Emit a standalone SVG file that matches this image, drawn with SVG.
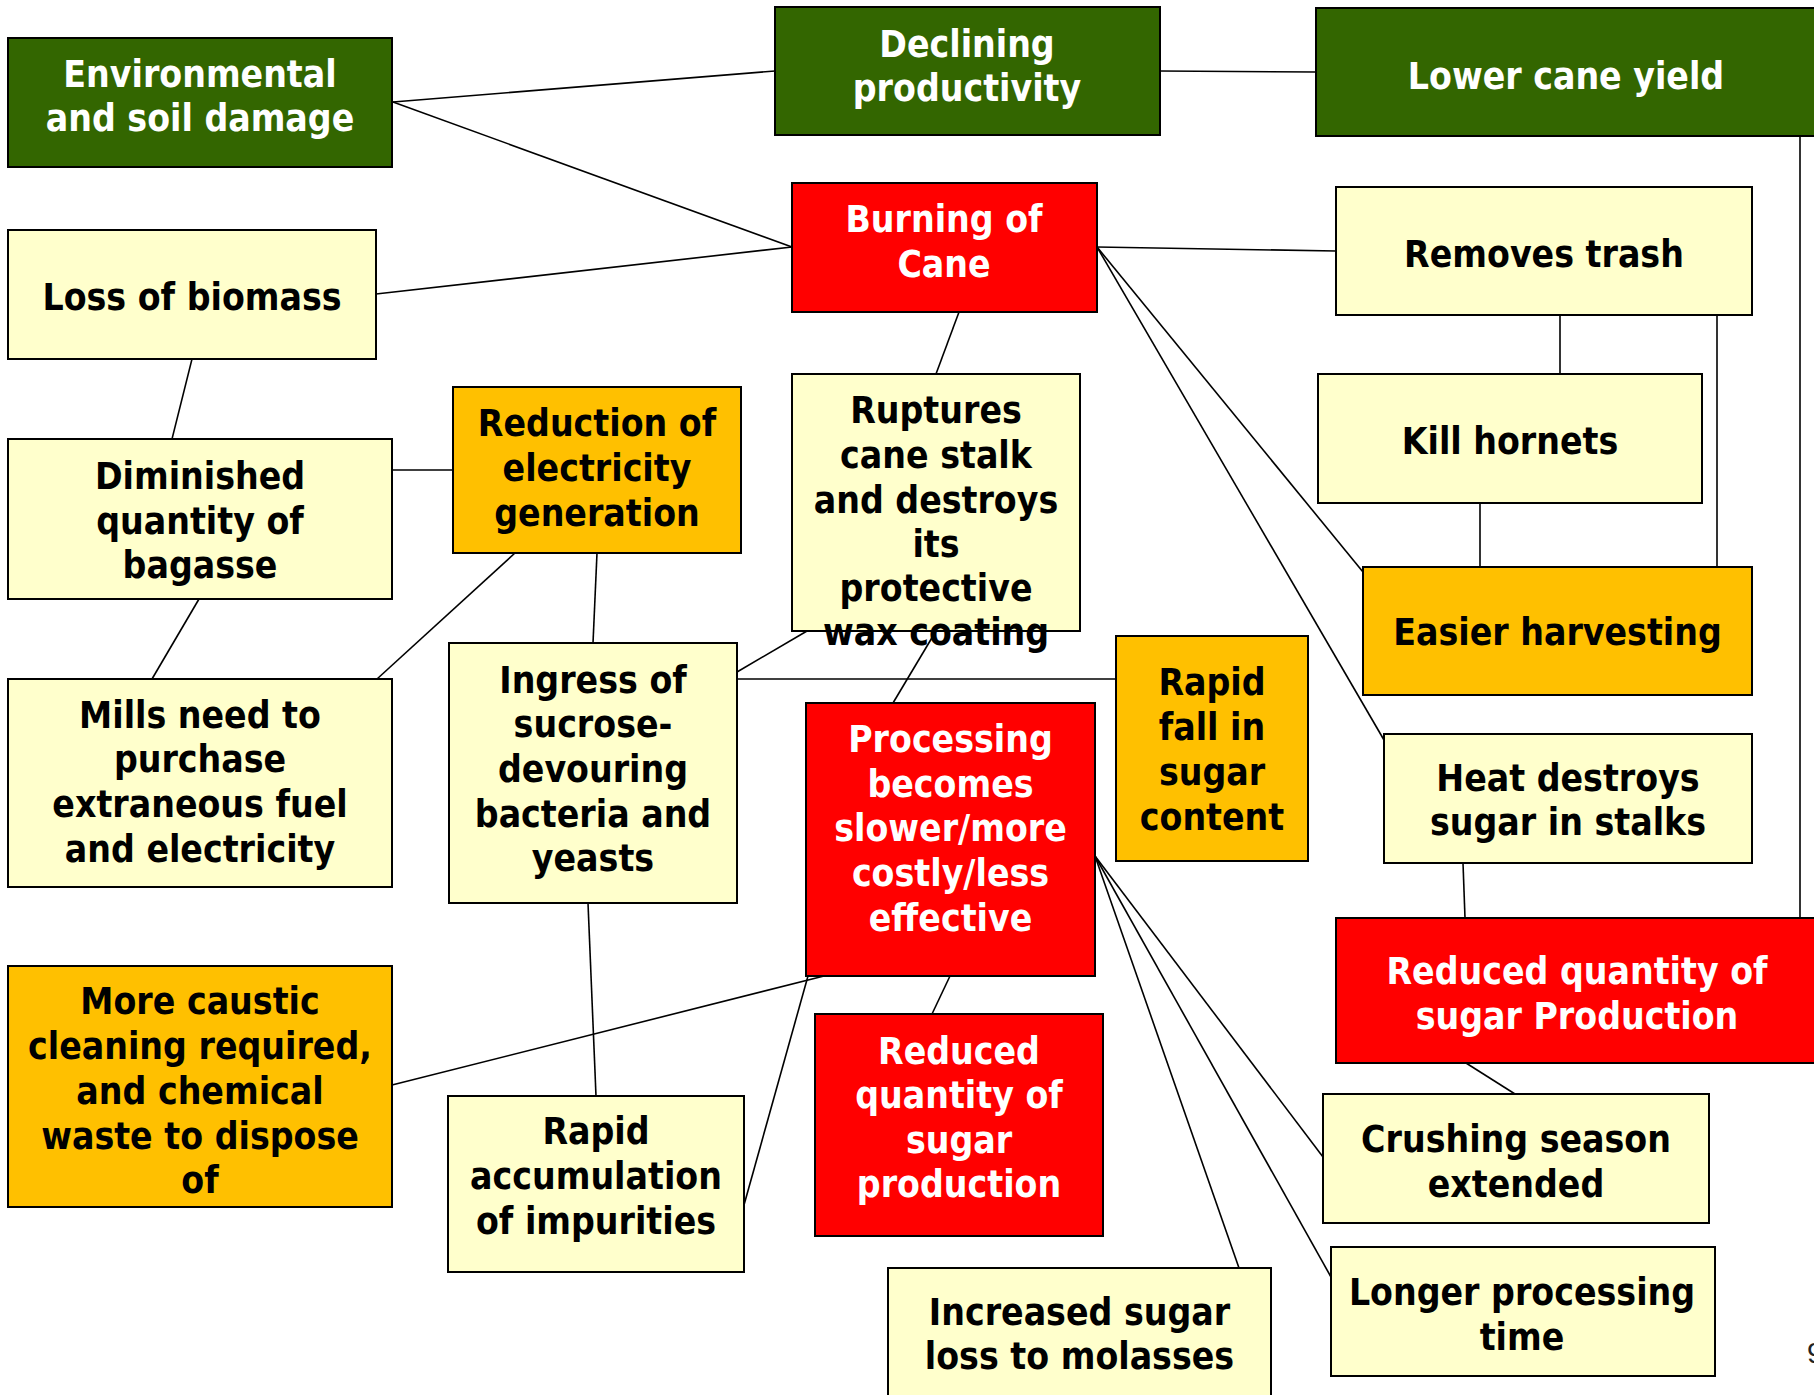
<svg xmlns="http://www.w3.org/2000/svg" width="1814" height="1395" viewBox="0 0 1814 1395">
<style>
.box{stroke:#000;stroke-width:2}
.g{fill:#336600}.r{fill:#FF0000}.o{fill:#FFC000}.y{fill:#FFFFCC}
text{font-family:"DejaVu Sans Condensed","DejaVu Sans",Verdana,sans-serif;font-stretch:condensed;font-weight:bold;font-size:37px;text-anchor:middle;transform:translate(0px,2px)}
.w{fill:#fff}.k{fill:#000}
#connectors line{stroke:#000;stroke-width:1.6}
</style>
<rect width="1814" height="1395" fill="#fff"/>
<g id="connectors">
<line x1="393" y1="102" x2="775" y2="71"/>
<line x1="393" y1="102" x2="792" y2="247"/>
<line x1="376" y1="294" x2="792" y2="247"/>
<line x1="1160" y1="71" x2="1316" y2="72"/>
<line x1="1097" y1="247" x2="1336" y2="251"/>
<line x1="1097" y1="247" x2="1363" y2="572"/>
<line x1="1097" y1="247" x2="1384" y2="740"/>
<line x1="959" y1="312" x2="936" y2="374"/>
<line x1="1560" y1="315" x2="1560" y2="374"/>
<line x1="1717" y1="315" x2="1717" y2="567"/>
<line x1="1800" y1="136" x2="1800" y2="918"/>
<line x1="1480" y1="503" x2="1480" y2="567"/>
<line x1="1463" y1="863" x2="1465" y2="918"/>
<line x1="1466" y1="1063" x2="1515" y2="1094"/>
<line x1="192" y1="359" x2="172" y2="439"/>
<line x1="392" y1="470" x2="453" y2="470"/>
<line x1="199" y1="599" x2="152" y2="679"/>
<line x1="515" y1="553" x2="377" y2="679"/>
<line x1="597" y1="553" x2="593" y2="643"/>
<line x1="737" y1="672" x2="807" y2="631"/>
<line x1="737" y1="679" x2="1116" y2="679"/>
<line x1="936" y1="631" x2="893" y2="703"/>
<line x1="588" y1="903" x2="596" y2="1096"/>
<line x1="392" y1="1085" x2="824" y2="976"/>
<line x1="744" y1="1205" x2="808" y2="976"/>
<line x1="950" y1="976" x2="932" y2="1014"/>
<line x1="1095" y1="856" x2="1323" y2="1157"/>
<line x1="1095" y1="856" x2="1331" y2="1277"/>
<line x1="1095" y1="856" x2="1239" y2="1268"/>
</g>
<g id="n-env"><rect class="box g" x="8" y="38" width="384" height="129"/><text class="w" x="200"><tspan x="200" y="85">Environmental</tspan><tspan x="200" y="129">and soil damage</tspan></text></g>
<g id="n-declining"><rect class="box g" x="775" y="7" width="385" height="128"/><text class="w"><tspan x="967" y="55">Declining</tspan><tspan x="967" y="99">productivity</tspan></text></g>
<g id="n-lower"><rect class="box g" x="1316" y="8" width="502" height="128"/><text class="w" x="1566" y="87">Lower cane yield</text></g>
<g id="n-burning"><rect class="box r" x="792" y="183" width="305" height="129"/><text class="w"><tspan x="944" y="230">Burning of</tspan><tspan x="944" y="275">Cane</tspan></text></g>
<g id="n-removes"><rect class="box y" x="1336" y="187" width="416" height="128"/><text class="k" x="1544" y="265">Removes trash</text></g>
<g id="n-loss"><rect class="box y" x="8" y="230" width="368" height="129"/><text class="k" x="192" y="308">Loss of biomass</text></g>
<g id="n-diminished"><rect class="box y" x="8" y="439" width="384" height="160"/><text class="k"><tspan x="200" y="487">Diminished</tspan><tspan x="200" y="531.5">quantity of</tspan><tspan x="200" y="575.5">bagasse</tspan></text></g>
<g id="n-reduction"><rect class="box o" x="453" y="387" width="288" height="166"/><text class="k"><tspan x="597" y="434">Reduction of</tspan><tspan x="597" y="479">electricity</tspan><tspan x="597" y="524">generation</tspan></text></g>
<g id="n-mills"><rect class="box y" x="8" y="679" width="384" height="208"/><text class="k"><tspan x="200" y="725.5">Mills need to</tspan><tspan x="200" y="770">purchase</tspan><tspan x="200" y="815">extraneous fuel</tspan><tspan x="200" y="859.5">and electricity</tspan></text></g>
<g id="n-ingress"><rect class="box y" x="449" y="643" width="288" height="260"/><text class="k"><tspan x="593" y="690.5">Ingress of</tspan><tspan x="593" y="735">sucrose-</tspan><tspan x="593" y="779.5">devouring</tspan><tspan x="593" y="824.5">bacteria and</tspan><tspan x="593" y="868.5">yeasts</tspan></text></g>
<g id="n-ruptures"><rect class="box y" x="792" y="374" width="288" height="257"/><text class="k"><tspan x="936" y="421">Ruptures</tspan><tspan x="936" y="466">cane stalk</tspan><tspan x="936" y="510.5">and destroys</tspan><tspan x="936" y="554.5">its</tspan><tspan x="936" y="599">protective</tspan><tspan x="936" y="643">wax coating</tspan></text></g>
<g id="n-kill"><rect class="box y" x="1318" y="374" width="384" height="129"/><text class="k" x="1510" y="452">Kill hornets</text></g>
<g id="n-easier"><rect class="box o" x="1363" y="567" width="389" height="128"/><text class="k" x="1557.5" y="643">Easier harvesting</text></g>
<g id="n-rapidfall"><rect class="box o" x="1116" y="636" width="192" height="225"/><text class="k"><tspan x="1212" y="693">Rapid</tspan><tspan x="1212" y="738">fall in</tspan><tspan x="1212" y="783">sugar</tspan><tspan x="1212" y="828">content</tspan></text></g>
<g id="n-heat"><rect class="box y" x="1384" y="734" width="368" height="129"/><text class="k"><tspan x="1568" y="789">Heat destroys</tspan><tspan x="1568" y="833">sugar in stalks</tspan></text></g>
<g id="n-processing"><rect class="box r" x="806" y="703" width="289" height="273"/><text class="w"><tspan x="950.5" y="750">Processing</tspan><tspan x="950.5" y="794.5">becomes</tspan><tspan x="950.5" y="839">slower/more</tspan><tspan x="950.5" y="884">costly/less</tspan><tspan x="950.5" y="928.5">effective</tspan></text></g>
<g id="n-reducedmid"><rect class="box r" x="815" y="1014" width="288" height="222"/><text class="w"><tspan x="959" y="1061.5">Reduced</tspan><tspan x="959" y="1106">quantity of</tspan><tspan x="959" y="1150.5">sugar</tspan><tspan x="959" y="1195">production</tspan></text></g>
<g id="n-reducedright"><rect class="box r" x="1336" y="918" width="482" height="145"/><text class="w"><tspan x="1577" y="981.5">Reduced quantity of</tspan><tspan x="1577" y="1026.5">sugar Production</tspan></text></g>
<g id="n-crushing"><rect class="box y" x="1323" y="1094" width="386" height="129"/><text class="k"><tspan x="1516" y="1150">Crushing season</tspan><tspan x="1516" y="1195">extended</tspan></text></g>
<g id="n-longer"><rect class="box y" x="1331" y="1247" width="384" height="129"/><text class="k"><tspan x="1522" y="1303">Longer processing</tspan><tspan x="1522" y="1347.5">time</tspan></text></g>
<g id="n-increased"><rect class="box y" x="888" y="1268" width="383" height="140"/><text class="k"><tspan x="1079.5" y="1323">Increased sugar</tspan><tspan x="1079.5" y="1367">loss to molasses</tspan></text></g>
<g id="n-caustic"><rect class="box o" x="8" y="966" width="384" height="241"/><text class="k"><tspan x="200" y="1011.5">More caustic</tspan><tspan x="200" y="1056.5">cleaning required,</tspan><tspan x="200" y="1101.5">and chemical</tspan><tspan x="200" y="1146.5">waste to dispose</tspan><tspan x="200" y="1190.5">of</tspan></text></g>
<g id="n-rapidacc"><rect class="box y" x="448" y="1096" width="296" height="176"/><text class="k"><tspan x="596" y="1141.5">Rapid</tspan><tspan x="596" y="1186.5">accumulation</tspan><tspan x="596" y="1231.5">of impurities</tspan></text></g>
<text x="1807" y="1361" style="font-family:'Liberation Sans',Arial,sans-serif;font-weight:normal;font-size:29px;text-anchor:start;fill:#222">9</text>
</svg>
